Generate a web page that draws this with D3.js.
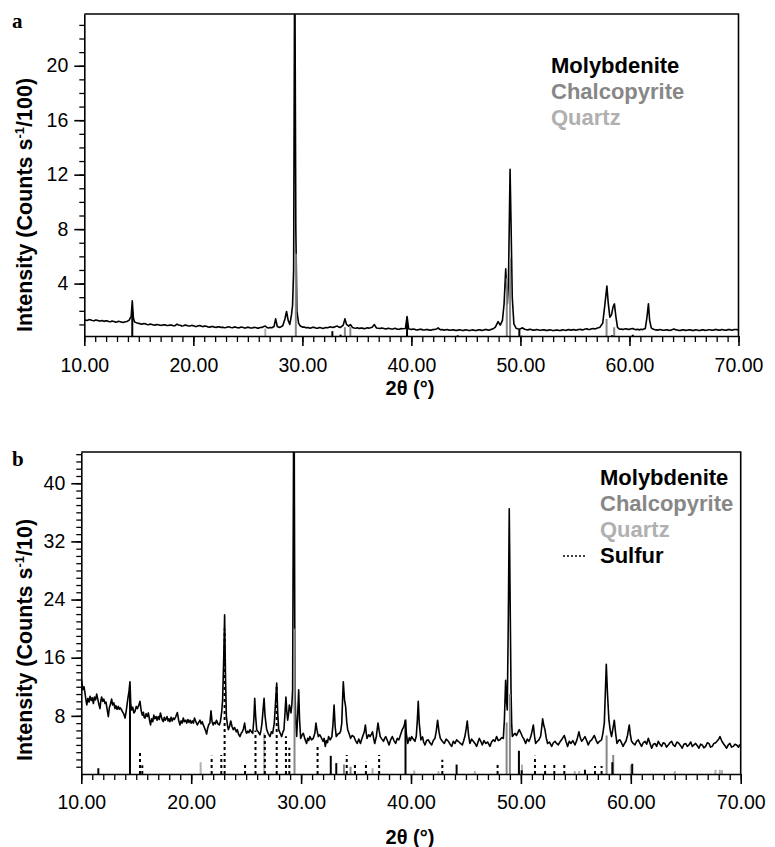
<!DOCTYPE html>
<html>
<head>
<meta charset="utf-8">
<script src="https://cdn.jsdelivr.net/npm/d3@7"></script>
<style>
  body { margin: 0; background: #fff; }
  svg text { font-family: "Liberation Sans", Arial, sans-serif; }
  .tick text { font-size: 19.5px; fill: #000; }
  .axis path, .axis line { stroke: #000; }
</style>
</head>
<body>
<div class="root"></div>
<script>
// x tick labels (shared by both panels)
const xTicks = [10, 20, 30, 40, 50, 60, 70];
const yTicksA = [4, 8, 12, 16, 20];
const yTicksB = [8, 16, 24, 32, 40];

// panel a measured pattern: [2theta, intensity (counts/s /100)]
const traceA = [
  [10.0,1.35],[10.15,1.31],[10.3,1.30],[10.45,1.36],[10.6,1.33],[10.75,1.29],[10.9,1.27],[11.05,1.32],
  [11.2,1.30],[11.35,1.26],[11.5,1.25],[11.65,1.29],[11.8,1.22],[11.95,1.27],[12.1,1.26],[12.25,1.21],
  [12.4,1.20],[12.55,1.25],[12.7,1.22],[12.85,1.17],[13.0,1.18],[13.15,1.23],[13.3,1.20],[13.45,1.16],
  [13.6,1.15],[13.75,1.19],[13.9,1.22],[14.1,1.30],[14.3,1.6],[14.4,2.73],[14.5,1.5],[14.6,1.2],
  [14.7,1.15],[14.85,1.10],[15.0,1.08],[15.15,1.04],[15.3,1.02],[15.45,1.07],[15.6,1.05],[15.75,1.00],
  [15.9,0.98],[16.05,1.03],[16.2,1.00],[16.35,0.96],[16.5,0.95],[16.65,1.00],[16.8,0.98],[16.95,0.94],
  [17.1,0.93],[17.25,0.98],[17.4,0.97],[17.55,0.92],[17.7,0.92],[17.85,0.96],[18.0,0.95],[18.15,0.90],
  [18.3,0.90],[18.5,1.02],[18.65,0.96],[18.8,0.94],[18.95,0.89],[19.1,0.90],[19.25,0.95],[19.4,0.93],
  [19.55,0.88],[19.7,0.88],[19.85,0.93],[20.0,0.90],[20.15,0.86],[20.3,0.85],[20.45,0.90],[20.6,0.92],
  [20.75,0.86],[20.9,0.84],[21.05,0.89],[21.2,0.86],[21.35,0.81],[21.5,0.80],[21.65,0.85],[21.8,0.84],
  [21.95,0.79],[22.1,0.78],[22.25,0.83],[22.4,0.82],[22.55,0.78],[22.7,0.80],[22.85,0.76],[23.0,0.77],
  [23.15,0.81],[23.3,0.82],[23.45,0.77],[23.6,0.76],[23.75,0.81],[23.9,0.80],[24.05,0.76],[24.2,0.75],
  [24.35,0.80],[24.5,0.79],[24.65,0.75],[24.8,0.74],[24.95,0.79],[25.1,0.78],[25.25,0.74],[25.4,0.74],
  [25.55,0.78],[25.7,0.77],[25.85,0.73],[26.0,0.73],[26.15,0.77],[26.3,0.78],[26.45,0.84],[26.6,0.88],
  [26.75,0.78],[26.9,0.74],[27.05,0.78],[27.2,0.76],[27.4,0.85],[27.55,1.41],[27.7,0.85],[27.85,0.80],
  [27.95,0.78],[28.2,0.90],[28.4,1.4],[28.55,1.95],[28.7,1.3],[28.85,1.0],[29.0,1.7],[29.1,2.4],
  [29.2,5.0],[29.3,30],[29.4,8.0],[29.5,2.0],[29.65,1.1],[29.8,0.9],[29.9,0.85],[30.05,0.80],
  [30.2,0.80],[30.35,0.75],[30.5,0.78],[30.65,0.73],[30.8,0.74],[30.95,0.79],[31.1,0.78],[31.25,0.73],
  [31.4,0.72],[31.55,0.77],[31.7,0.76],[31.85,0.71],[32.0,0.73],[32.15,0.77],[32.3,0.75],[32.45,0.79],
  [32.6,0.82],[32.75,0.77],[32.9,0.80],[33.05,0.85],[33.2,0.88],[33.35,0.80],[33.5,0.78],[33.75,0.95],
  [33.9,1.41],[34.05,1.0],[34.25,0.88],[34.4,0.99],[34.6,0.78],[34.75,0.74],[34.9,0.72],[35.05,0.76],
  [35.2,0.70],[35.35,0.73],[35.5,0.74],[35.65,0.69],[35.8,0.70],[35.95,0.75],[36.1,0.73],[36.25,0.76],
  [36.4,0.80],[36.6,0.99],[36.8,0.74],[36.95,0.72],[37.1,0.70],[37.25,0.74],[37.4,0.72],[37.55,0.68],
  [37.7,0.67],[37.85,0.72],[38.0,0.70],[38.15,0.66],[38.3,0.66],[38.45,0.71],[38.6,0.69],[38.75,0.65],
  [38.9,0.65],[39.05,0.70],[39.2,0.68],[39.45,0.70],[39.6,1.58],[39.75,0.68],[39.9,0.65],[40.0,0.62],
  [40.15,0.66],[40.3,0.64],[40.45,0.59],[40.6,0.60],[40.75,0.65],[40.9,0.64],[41.05,0.60],[41.2,0.59],
  [41.35,0.63],[41.5,0.62],[41.65,0.58],[41.8,0.58],[41.95,0.62],[42.1,0.63],[42.3,0.66],[42.45,0.75],
  [42.6,0.64],[42.7,0.60],[42.85,0.63],[43.0,0.58],[43.15,0.61],[43.3,0.62],[43.45,0.58],[43.6,0.57],
  [43.75,0.61],[43.9,0.60],[44.05,0.56],[44.2,0.56],[44.35,0.61],[44.5,0.60],[44.65,0.55],[44.8,0.56],
  [44.95,0.61],[45.1,0.59],[45.25,0.55],[45.4,0.55],[45.55,0.60],[45.7,0.58],[45.85,0.55],[46.0,0.56],
  [46.15,0.61],[46.3,0.60],[46.45,0.56],[46.6,0.57],[46.75,0.62],[46.9,0.62],[47.05,0.58],[47.2,0.60],
  [47.35,0.64],[47.5,0.68],[47.7,0.80],[47.95,1.21],[48.15,0.95],[48.35,1.3],[48.5,2.5],[48.65,5.09],
  [48.8,2.5],[48.9,4.0],[49.05,12.39],[49.15,7.9],[49.25,3.0],[49.4,1.04],[49.6,0.72],[49.75,0.68],
  [49.9,0.65],[50.05,0.70],[50.2,0.75],[50.3,0.68],[50.4,0.64],[50.55,0.61],[50.7,0.60],[50.85,0.64],
  [51.0,0.62],[51.15,0.58],[51.3,0.58],[51.45,0.62],[51.6,0.61],[51.75,0.57],[51.9,0.57],[52.05,0.61],
  [52.2,0.60],[52.35,0.56],[52.5,0.56],[52.65,0.60],[52.8,0.59],[52.95,0.55],[53.1,0.55],[53.25,0.59],
  [53.4,0.58],[53.55,0.55],[53.7,0.56],[53.85,0.60],[54.0,0.59],[54.15,0.56],[54.3,0.60],[54.45,0.62],
  [54.6,0.58],[54.75,0.60],[54.9,0.62],[55.05,0.58],[55.2,0.60],[55.35,0.63],[55.5,0.64],[55.65,0.60],
  [55.8,0.62],[55.95,0.66],[56.1,0.68],[56.25,0.63],[56.4,0.64],[56.55,0.68],[56.7,0.70],[56.85,0.67],
  [57.0,0.72],[57.15,0.75],[57.3,0.80],[57.55,1.1],[57.75,2.5],[57.93,3.81],[58.05,2.6],[58.2,1.53],
  [58.35,1.7],[58.5,2.3],[58.62,2.51],[58.75,1.6],[58.9,0.8],[59.0,0.70],[59.1,0.65],[59.25,0.66],
  [59.4,0.62],[59.55,0.66],[59.7,0.68],[59.85,0.64],[60.0,0.64],[60.15,0.68],[60.3,0.70],[60.45,0.65],
  [60.6,0.62],[60.75,0.64],[60.9,0.60],[61.05,0.64],[61.2,0.62],[61.45,0.70],[61.6,1.5],[61.74,2.51],
  [61.85,1.3],[62.0,0.75],[62.15,0.66],[62.3,0.62],[62.45,0.60],[62.6,0.58],[62.75,0.62],[62.9,0.61],
  [63.05,0.57],[63.2,0.57],[63.35,0.61],[63.5,0.60],[63.65,0.56],[63.8,0.58],[63.95,0.62],[64.1,0.66],
  [64.25,0.60],[64.4,0.59],[64.55,0.55],[64.7,0.56],[64.85,0.61],[65.0,0.60],[65.15,0.56],[65.3,0.57],
  [65.45,0.61],[65.6,0.60],[65.75,0.56],[65.9,0.56],[66.05,0.61],[66.2,0.59],[66.35,0.55],[66.5,0.56],
  [66.65,0.60],[66.8,0.60],[66.95,0.56],[67.1,0.57],[67.25,0.61],[67.4,0.61],[67.55,0.57],[67.7,0.58],
  [67.85,0.62],[68.0,0.62],[68.15,0.58],[68.3,0.58],[68.45,0.62],[68.6,0.61],[68.75,0.57],[68.9,0.58],
  [69.05,0.62],[69.2,0.62],[69.35,0.58],[69.5,0.60],[69.65,0.63],[69.8,0.63],[69.9,0.60],[70.0,0.62]
];

// panel a reference sticks: [2theta, relative height]
const molyA = [[14.4,2.0],[32.75,0.5],[33.5,0.25],[39.6,1.5],[44.25,0.2],[49.9,0.6],[58.4,0.2],[60.3,0.25]];
const chalcoA = [[29.4,6.2],[33.9,0.8],[34.4,0.8],[48.75,4.4],[49.05,5.9],[57.9,1.4],[58.6,0.8]];
const quartzA = [[26.6,0.7],[20.9,0.15],[36.5,0.15],[50.1,0.2]];

// panel b measured pattern: [2theta, intensity (counts/s /10)]
const traceB = [
  [10.0,13.0],[10.08,12.3],[10.15,11.6],[10.25,12.0],[10.34,11.1],[10.42,10.2],[10.5,9.5],[10.6,10.4],
  [10.7,9.9],[10.8,10.7],[10.9,10.1],[11.0,10.5],[11.1,9.7],[11.2,10.6],[11.3,10.2],[11.4,11.0],
  [11.5,10.3],[11.6,9.6],[11.7,9.0],[11.78,10.1],[11.85,10.6],[11.95,10.0],[12.05,10.3],[12.16,9.7],
  [12.25,9.9],[12.35,8.9],[12.46,7.9],[12.55,9.1],[12.65,9.6],[12.76,10.3],[12.85,9.5],[12.95,9.8],
  [13.07,9.0],[13.15,9.4],[13.25,8.9],[13.37,9.3],[13.45,8.9],[13.55,9.1],[13.67,8.8],[13.77,8.5],
  [13.88,8.2],[13.98,7.7],[14.1,8.8],[14.22,10.2],[14.35,11.5],[14.43,12.7],[14.5,9.6],[14.58,8.8],
  [14.68,9.2],[14.78,8.4],[14.88,8.6],[15.0,9.3],[15.1,9.0],[15.22,9.4],[15.34,10.0],[15.45,8.7],
  [15.55,8.1],[15.65,8.5],[15.72,7.8],[15.8,7.7],[15.9,8.3],[16.0,7.9],[16.1,8.4],[16.2,7.5],
  [16.3,6.75],[16.4,7.6],[16.5,7.2],[16.6,8.1],[16.7,7.6],[16.8,7.9],[16.9,7.4],[17.0,7.9],
  [17.1,7.5],[17.2,8.4],[17.3,7.8],[17.38,7.4],[17.46,7.2],[17.55,7.8],[17.65,7.4],[17.8,7.9],
  [17.9,7.3],[17.98,7.6],[18.07,7.2],[18.17,7.8],[18.27,7.3],[18.37,7.7],[18.47,7.5],[18.6,7.9],
  [18.74,8.45],[18.86,7.4],[18.98,6.75],[19.08,7.3],[19.18,7.0],[19.28,7.7],[19.38,7.2],[19.5,7.4],
  [19.6,7.0],[19.7,7.5],[19.8,7.1],[19.9,7.4],[20.0,7.0],[20.1,7.3],[20.2,7.0],[20.3,7.7],
  [20.42,7.2],[20.56,6.75],[20.68,7.1],[20.8,7.4],[20.9,6.9],[21.0,7.2],[21.1,6.75],[21.2,6.4],
  [21.3,6.0],[21.4,5.5],[21.5,6.3],[21.6,6.8],[21.7,7.0],[21.8,8.7],[21.9,7.2],[22.0,6.75],
  [22.1,7.1],[22.2,6.9],[22.3,7.4],[22.43,6.9],[22.56,6.75],[22.65,7.2],[22.7,7.7],[22.78,8.6],
  [22.86,10.2],[22.96,16.0],[23.04,21.9],[23.12,13.5],[23.2,7.9],[23.3,6.7],[23.38,6.1],[23.5,6.6],
  [23.6,7.3],[23.72,6.5],[23.83,6.1],[23.95,6.4],[24.1,5.8],[24.2,6.1],[24.3,5.5],[24.44,5.15],
  [24.55,5.6],[24.65,5.8],[24.75,6.2],[24.86,7.0],[24.95,6.0],[25.04,5.6],[25.15,5.9],[25.25,5.7],
  [25.35,6.1],[25.48,5.8],[25.6,5.6],[25.7,7.5],[25.78,10.4],[25.86,8.0],[25.96,6.1],[26.1,5.8],
  [26.26,5.4],[26.35,6.0],[26.44,7.0],[26.55,9.0],[26.63,10.4],[26.72,8.0],[26.87,6.1],[27.0,5.6],
  [27.17,5.15],[27.3,5.8],[27.41,5.6],[27.56,7.0],[27.68,10.0],[27.78,12.5],[27.87,8.5],[27.96,6.1],
  [28.1,5.6],[28.23,5.15],[28.35,5.8],[28.44,6.1],[28.54,8.5],[28.62,10.6],[28.7,8.6],[28.78,7.4],
  [28.86,8.3],[28.93,9.5],[29.0,9.0],[29.08,8.4],[29.16,9.6],[29.23,11.6],[29.35,60],[29.44,11.6],
  [29.52,7.0],[29.6,5.15],[29.7,8.5],[29.78,11.6],[29.86,7.5],[29.96,4.9],[30.1,5.4],[30.2,5.6],
  [30.35,4.8],[30.5,4.2],[30.6,4.9],[30.7,4.6],[30.8,5.15],[30.95,4.7],[31.1,4.9],[31.25,5.6],
  [31.35,7.0],[31.45,6.0],[31.57,5.15],[31.7,5.4],[31.87,4.9],[32.0,4.5],[32.1,4.9],[32.2,3.8],
  [32.3,4.6],[32.4,4.3],[32.5,5.15],[32.65,4.7],[32.8,5.15],[32.9,6.8],[33.0,9.5],[33.1,6.5],
  [33.2,5.15],[33.35,5.5],[33.5,5.6],[33.6,5.9],[33.7,7.0],[33.78,10.5],[33.84,12.7],[33.95,10.2],
  [34.05,9.3],[34.15,7.2],[34.24,6.1],[34.38,5.5],[34.5,4.9],[34.65,5.3],[34.8,5.15],[34.95,4.6],
  [35.1,4.2],[35.25,4.8],[35.4,4.2],[35.5,4.7],[35.6,5.15],[35.75,5.8],[35.85,6.75],[35.93,5.6],
  [36.0,4.9],[36.15,5.4],[36.27,5.15],[36.4,5.5],[36.5,5.8],[36.6,4.9],[36.7,4.2],[36.85,5.2],
  [36.93,6.2],[37.0,7.0],[37.1,6.0],[37.2,5.15],[37.35,4.8],[37.5,4.5],[37.6,4.9],[37.7,5.15],
  [37.85,4.6],[38.0,4.0],[38.15,4.7],[38.3,5.15],[38.45,4.6],[38.6,4.2],[38.75,4.9],[38.9,4.7],
  [39.05,5.4],[39.2,6.1],[39.35,6.5],[39.48,7.3],[39.58,5.5],[39.7,4.2],[39.85,5.0],[39.95,4.6],
  [40.06,5.15],[40.2,4.8],[40.36,4.5],[40.48,5.2],[40.58,7.5],[40.66,10.0],[40.75,7.0],[40.9,4.7],
  [41.05,5.1],[41.15,4.4],[41.27,4.0],[41.42,4.6],[41.57,4.7],[41.72,4.3],[41.88,4.0],[42.03,4.6],
  [42.18,4.9],[42.3,5.9],[42.42,7.4],[42.55,5.8],[42.67,4.9],[42.85,4.5],[43.03,4.2],[43.2,4.8],
  [43.4,4.5],[43.55,4.1],[43.7,3.8],[43.85,4.5],[44.0,4.2],[44.15,4.7],[44.3,4.5],[44.5,4.2],
  [44.67,4.0],[44.8,4.6],[44.9,5.15],[45.02,6.2],[45.12,7.3],[45.24,5.3],[45.36,4.2],[45.52,4.8],
  [45.67,4.5],[45.82,4.2],[45.97,3.8],[46.1,4.4],[46.21,4.9],[46.35,4.5],[46.49,4.0],[46.64,4.6],
  [46.79,4.2],[46.98,4.4],[47.18,3.8],[47.33,4.4],[47.49,4.7],[47.64,4.5],[47.79,5.15],[47.94,4.6],
  [48.09,4.7],[48.25,5.0],[48.4,4.9],[48.5,7.5],[48.61,12.9],[48.69,10.0],[48.76,8.8],[48.86,22.0],
  [48.94,36.5],[49.02,24.0],[49.1,11.6],[49.16,7.0],[49.22,5.15],[49.34,5.4],[49.46,5.6],[49.6,5.3],
  [49.72,5.7],[49.85,6.1],[49.98,5.7],[50.13,5.15],[50.28,4.8],[50.43,4.2],[50.58,4.8],[50.73,4.5],
  [50.82,4.8],[50.9,5.15],[51.02,5.9],[51.13,6.75],[51.24,5.2],[51.34,4.2],[51.5,4.5],[51.64,4.7],
  [51.8,5.2],[51.9,6.5],[51.98,7.6],[52.08,6.7],[52.19,6.1],[52.3,5.0],[52.43,4.2],[52.6,4.4],
  [52.8,3.8],[52.95,4.3],[53.1,4.5],[53.25,4.2],[53.4,4.0],[53.55,4.4],[53.7,4.7],[53.82,5.0],
  [53.95,5.3],[54.1,4.5],[54.25,3.8],[54.4,4.5],[54.55,4.2],[54.72,4.6],[54.92,4.0],[55.1,4.7],
  [55.28,5.8],[55.4,5.0],[55.53,4.5],[55.68,4.8],[55.83,5.15],[55.98,4.6],[56.13,4.0],[56.28,4.5],
  [56.44,4.7],[56.56,5.0],[56.68,5.3],[56.83,4.7],[56.98,4.2],[57.15,4.5],[57.34,4.7],[57.46,5.6],
  [57.59,7.0],[57.68,11.0],[57.77,15.1],[57.88,11.0],[58.01,7.4],[58.13,6.0],[58.25,5.15],[58.38,6.3],
  [58.5,7.4],[58.62,5.6],[58.74,4.2],[58.88,4.6],[59.01,4.7],[59.15,4.3],[59.3,3.8],[59.43,4.2],
  [59.56,4.5],[59.7,5.3],[59.86,6.75],[59.96,5.4],[60.07,4.5],[60.22,4.2],[60.38,4.0],[60.53,4.5],
  [60.68,4.7],[60.83,4.2],[60.98,3.8],[61.13,4.3],[61.29,4.5],[61.44,4.1],[61.59,4.9],[61.75,4.2],
  [61.9,3.55],[62.05,4.1],[62.2,4.2],[62.35,3.8],[62.5,4.5],[62.65,4.1],[62.8,3.8],[62.95,4.3],
  [63.1,4.2],[63.25,3.7],[63.41,4.0],[63.56,4.3],[63.71,4.5],[63.86,4.0],[64.02,3.8],[64.2,4.4],
  [64.38,4.2],[64.53,3.9],[64.68,3.55],[64.83,4.1],[64.99,4.2],[65.14,3.8],[65.29,4.0],[65.45,4.4],
  [65.6,3.8],[65.75,4.0],[65.9,4.2],[66.05,3.9],[66.2,3.55],[66.35,4.1],[66.5,4.0],[66.65,3.6],
  [66.81,3.8],[66.96,4.3],[67.11,4.2],[67.26,3.7],[67.41,3.8],[67.56,4.2],[67.72,4.3],[67.9,4.6],
  [68.0,4.8],[68.11,5.15],[68.26,4.6],[68.42,4.2],[68.57,3.9],[68.72,3.55],[68.87,4.0],[69.02,4.2],
  [69.17,3.7],[69.33,3.8],[69.48,4.1],[69.63,4.0],[69.8,3.7],[69.9,4.0],[70.0,3.8]
];

// panel b reference sticks
const molyB = [[11.55,0.8],[14.43,12.0],[32.7,2.5],[33.2,1.5],[39.5,7.5],[44.15,1.3],[49.82,3.2],[50.07,0.5],[55.83,0.6],[58.32,1.6],[60.13,1.4]];
const chalcoB = [[29.4,20],[33.9,1.3],[34.5,1.0],[48.7,7.1],[49.0,11.0],[57.8,5.3],[58.4,2.6]];
const quartzB = [[20.86,1.6],[26.64,5.6],[36.5,0.8],[40.3,0.5],[42.5,0.4],[45.8,0.4],[50.1,1.3],[54.9,0.4],[55.3,0.4],[60.0,1.25],[64.0,0.4],[67.7,0.6],[68.1,0.6],[68.3,0.5]];
const sulfurB = [[15.34,2.9],[15.55,1.2],[21.86,2.5],[22.74,2.6],[23.04,20],[24.9,1.5],[25.85,6.0],[26.7,5.6],[27.78,12.3],[28.62,5.2],[28.93,3.6],[31.5,3.8],[34.15,2.6],[34.9,1.5],[35.9,1.7],[37.1,2.6],[42.85,1.95],[47.88,1.5],[51.28,2.5],[52.2,1.6],[53.04,1.4],[53.95,1.4],[56.74,1.1],[57.34,1.1]];

const phaseNames = ["Molybdenite", "Chalcopyrite", "Quartz", "Sulfur"];
const phaseColors = ["#000000", "#878787", "#b0b0b0", "#000000"];

const w = 775;
const h = 847;
const svg = d3.select(".root")
              .append("svg")
              .attr("width", w)
              .attr("height", h);

function drawPanel(p) {
  const g = svg.append("g");

  const xScale = d3.scaleLinear().domain([10, 70]).range([p.left, p.right]);
  const yScale = d3.scaleLinear().domain(p.yDomain).range([p.bottom, p.top]);

  const clipId = "clip-" + p.name;
  svg.append("clipPath").attr("id", clipId)
     .append("rect")
     .attr("x", p.left).attr("y", p.top)
     .attr("width", p.right - p.left).attr("height", p.bottom - p.top);

  const plot = g.append("g").attr("clip-path", "url(#" + clipId + ")");

  // measured pattern
  const line = d3.line().x(d => xScale(d[0])).y(d => yScale(d[1]));
  plot.append("path")
      .datum(p.trace)
      .attr("d", line)
      .attr("fill", "none")
      .attr("stroke", "#000")
      .attr("stroke-width", 1.6)
      .attr("stroke-linejoin", "round");

  // reference sticks
  p.sticks.forEach(s => {
    plot.selectAll(null)
        .data(s.data)
        .enter()
        .append("line")
        .attr("x1", d => xScale(d[0]))
        .attr("x2", d => xScale(d[0]))
        .attr("y1", yScale(p.yDomain[0]))
        .attr("y2", d => yScale(d[1]))
        .attr("stroke", s.color)
        .attr("stroke-width", s.width)
        .attr("stroke-dasharray", s.dash || null);
  });

  // minor x ticks
  g.append("g")
   .attr("class", "axis")
   .attr("transform", "translate(0," + p.bottom + ")")
   .call(d3.axisBottom(xScale).tickValues(d3.range(10, 71)).tickSize(6).tickFormat(""))
   .call(a => a.select(".domain").remove())
   .selectAll("line").attr("stroke-width", 1.3);

  // major x ticks
  g.append("g")
   .attr("class", "axis")
   .attr("transform", "translate(0," + p.bottom + ")")
   .call(d3.axisBottom(xScale).tickValues(xTicks).tickSize(10).tickSizeOuter(0)
           .tickPadding(p.xPad).tickFormat(d3.format(".2f")))
   .call(a => a.select(".domain").attr("stroke-width", 1.6))
   .call(a => a.selectAll("line").attr("stroke-width", 1.6));

  // minor y ticks
  g.append("g")
   .attr("class", "axis")
   .attr("transform", "translate(" + p.left + ",0)")
   .call(d3.axisLeft(yScale).tickValues(d3.range(1, Math.floor(p.yDomain[1]) + 1)).tickSize(5).tickFormat(""))
   .call(a => a.select(".domain").remove())
   .selectAll("line").attr("stroke-width", 1.3);

  // major y ticks
  g.append("g")
   .attr("class", "axis")
   .attr("transform", "translate(" + p.left + ",0)")
   .call(d3.axisLeft(yScale).tickValues(p.yTicks).tickSize(10).tickSizeOuter(0).tickPadding(6))
   .call(a => a.select(".domain").attr("stroke-width", 1.6))
   .call(a => a.selectAll("line").attr("stroke-width", 1.6));

  // frame top / right
  g.append("path")
   .attr("d", "M" + p.left + "," + p.top + "H" + p.right + "V" + p.bottom)
   .attr("fill", "none")
   .attr("stroke", "#000")
   .attr("stroke-width", 1.6);

  // panel letter
  g.append("text")
   .attr("x", 12).attr("y", p.top + 14)
   .style("font-family", "'Liberation Serif', 'Times New Roman', serif")
   .style("font-weight", "bold")
   .style("font-size", "21px")
   .text(p.name);

  // y axis title
  const yt = g.append("text")
   .attr("text-anchor", "middle")
   .attr("transform", "translate(32," + p.yTitleY + ")rotate(-90)")
   .style("font-weight", "bold")
   .style("font-size", "21.5px");
  yt.append("tspan").text("Intensity (Counts s");
  yt.append("tspan").attr("dy", -8).style("font-size", "13px").text("-1");
  yt.append("tspan").attr("dy", 8).text(p.yUnit + ")");

  // x axis title
  g.append("text")
   .attr("x", 410).attr("y", p.xTitleY)
   .attr("text-anchor", "middle")
   .style("font-weight", "bold")
   .style("font-size", "20px")
   .text("2θ (°)");

  // legend
  p.legend.forEach((name, i) => {
    const k = phaseNames.indexOf(name);
    g.append("text")
     .attr("x", p.legendX).attr("y", p.legendY + i * 26)
     .style("font-weight", "bold")
     .style("font-size", "22px")
     .style("fill", phaseColors[k])
     .text(name);
    if (name === "Sulfur") {
      g.append("line")
       .attr("x1", p.legendX - 37).attr("x2", p.legendX - 13)
       .attr("y1", p.legendY + i * 26 - 7).attr("y2", p.legendY + i * 26 - 7)
       .attr("stroke", "#000")
       .attr("stroke-width", 1.5)
       .attr("stroke-dasharray", "2,2");
    }
  });
}

drawPanel({
  name: "a",
  left: 84.3, right: 738.5, top: 14, bottom: 336,
  yDomain: [0.15, 23.8], yTicks: yTicksA, yUnit: "/100",
  trace: traceA,
  sticks: [
    { data: quartzA, color: phaseColors[2], width: 2 },
    { data: chalcoA, color: phaseColors[1], width: 2 },
    { data: molyA, color: phaseColors[0], width: 2 }
  ],
  xPad: 12, yTitleY: 205, xTitleY: 395,
  legend: ["Molybdenite", "Chalcopyrite", "Quartz"], legendX: 551, legendY: 73
});

drawPanel({
  name: "b",
  left: 81.3, right: 740.7, top: 452, bottom: 774,
  yDomain: [0, 44.3], yTicks: yTicksB, yUnit: "/10",
  trace: traceB,
  sticks: [
    { data: quartzB, color: phaseColors[2], width: 2 },
    { data: chalcoB, color: phaseColors[1], width: 2 },
    { data: sulfurB, color: "#000", width: 2, dash: "3,3" },
    { data: molyB, color: phaseColors[0], width: 2 }
  ],
  xPad: 11, yTitleY: 640, xTitleY: 844,
  legend: ["Molybdenite", "Chalcopyrite", "Quartz", "Sulfur"], legendX: 600, legendY: 485
});
</script>
</body>
</html>
